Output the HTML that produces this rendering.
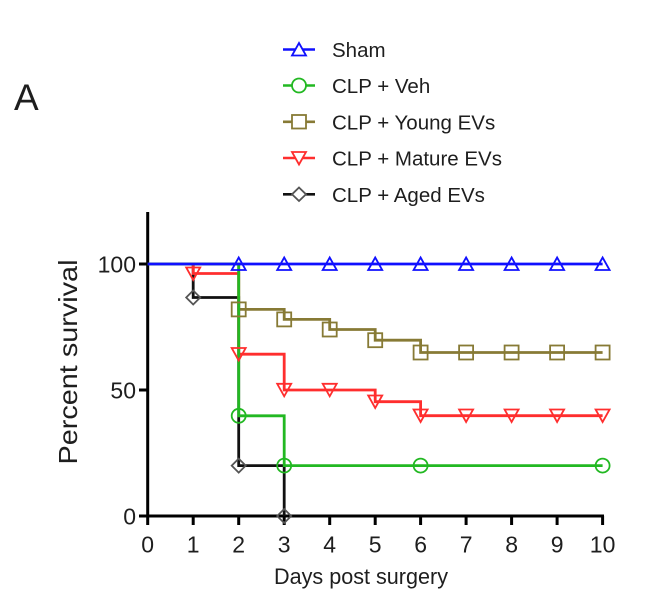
<!DOCTYPE html>
<html>
<head>
<meta charset="utf-8">
<style>
  html, body { margin: 0; padding: 0; background: #ffffff; }
  svg { display: block; }
  text { font-family: "Liberation Sans", Arial, sans-serif; fill: #1e1e1e; }
</style>
</head>
<body>
<svg width="650" height="602" viewBox="0 0 650 602" xmlns="http://www.w3.org/2000/svg">
  <rect x="0" y="0" width="650" height="602" fill="#ffffff"/>

  <!-- Panel letter -->
  <text x="14" y="110" font-size="37">A</text>

  <!-- Legend -->
  <g stroke-width="2.6" fill="none">
    <line x1="283" y1="49.5" x2="315" y2="49.5" stroke="#1010ff"/>
    <line x1="283" y1="85.5" x2="315" y2="85.5" stroke="#22b822"/>
    <line x1="283" y1="121.8" x2="315" y2="121.8" stroke="#877a35"/>
    <line x1="283" y1="158" x2="315" y2="158" stroke="#ff2e2e"/>
    <line x1="283" y1="194.3" x2="315" y2="194.3" stroke="#111111"/>
  </g>
  <g fill="#ffffff" stroke-width="1.8">
    <polygon points="299,43 306,55.5 292,55.5" stroke="#1010ff"/>
    <circle cx="299" cy="85.5" r="7" stroke="#22b822"/>
    <rect x="292" y="115" width="14" height="13.5" stroke="#877a35"/>
    <polygon points="292,152 306,152 299,164.5" stroke="#ff2e2e"/>
    <polygon points="299,187.5 306,194.3 299,201 292,194.3" stroke="#555555"/>
  </g>
  <g font-size="20.5">
    <text x="332" y="57">Sham</text>
    <text x="332" y="93">CLP + Veh</text>
    <text x="332" y="129.3">CLP + Young EVs</text>
    <text x="332" y="165.5">CLP + Mature EVs</text>
    <text x="332" y="201.8">CLP + Aged EVs</text>
  </g>

  <!-- Axes -->
  <g stroke="#000" stroke-width="3" fill="none">
    <line x1="147.7" y1="212" x2="147.7" y2="517.5"/>
    <line x1="146.2" y1="516" x2="604" y2="516"/>
    <!-- y ticks -->
    <line x1="139" y1="264" x2="147.7" y2="264"/>
    <line x1="139" y1="390" x2="147.7" y2="390"/>
    <line x1="139" y1="516" x2="147.7" y2="516"/>
    <!-- x ticks -->
    <line x1="147.7" y1="516" x2="147.7" y2="525"/>
    <line x1="193.2" y1="516" x2="193.2" y2="525"/>
    <line x1="238.7" y1="516" x2="238.7" y2="525"/>
    <line x1="284.2" y1="516" x2="284.2" y2="525"/>
    <line x1="329.7" y1="516" x2="329.7" y2="525"/>
    <line x1="375.2" y1="516" x2="375.2" y2="525"/>
    <line x1="420.6" y1="516" x2="420.6" y2="525"/>
    <line x1="466.1" y1="516" x2="466.1" y2="525"/>
    <line x1="511.6" y1="516" x2="511.6" y2="525"/>
    <line x1="557.1" y1="516" x2="557.1" y2="525"/>
    <line x1="602.6" y1="516" x2="602.6" y2="525"/>
  </g>

  <!-- Tick labels -->
  <g font-size="23" text-anchor="end">
    <text x="136" y="272.5">100</text>
    <text x="136" y="398.5">50</text>
    <text x="136" y="524.5">0</text>
  </g>
  <g font-size="23" text-anchor="middle">
    <text x="147.7" y="552.5">0</text>
    <text x="193.2" y="552.5">1</text>
    <text x="238.7" y="552.5">2</text>
    <text x="284.2" y="552.5">3</text>
    <text x="329.7" y="552.5">4</text>
    <text x="375.2" y="552.5">5</text>
    <text x="420.6" y="552.5">6</text>
    <text x="466.1" y="552.5">7</text>
    <text x="511.6" y="552.5">8</text>
    <text x="557.1" y="552.5">9</text>
    <text x="602.6" y="552.5">10</text>
  </g>

  <!-- Axis titles -->
  <text x="361" y="584" font-size="22" text-anchor="middle" textLength="174" lengthAdjust="spacingAndGlyphs">Days post surgery</text>
  <text transform="translate(77,362) rotate(-90)" x="0" y="0" font-size="26" text-anchor="middle" textLength="205" lengthAdjust="spacingAndGlyphs">Percent survival</text>

  <!-- Series lines -->
  <g fill="none" stroke-width="2.8" stroke-linejoin="miter">
    <!-- Aged (black) -->
    <polyline stroke="#111111" points="147.7,264 193.2,264 193.2,297.5 238.7,297.5 238.7,465.6 284.2,465.6 284.2,516"/>
    <!-- Mature (red) -->
    <polyline stroke="#ff2e2e" points="147.7,264 193.2,264 193.2,273.5 238.7,273.5 238.7,354.2 284.2,354.2 284.2,390 375.2,390 375.2,401.7 420.6,401.7 420.6,415.7 602.6,415.7"/>
    <!-- Young (olive) -->
    <polyline stroke="#877a35" points="147.7,264 238.7,264 238.7,309.4 284.2,309.4 284.2,319.4 329.7,319.4 329.7,329.5 375.2,329.5 375.2,340.2 420.6,340.2 420.6,352.5 602.6,352.5"/>
    <!-- Veh (green) -->
    <polyline stroke="#22b822" points="147.7,264 238.7,264 238.7,415.8 284.2,415.8 284.2,465.6 602.6,465.6"/>
    <!-- Sham (blue) -->
    <polyline stroke="#1010ff" points="147.7,264 602.6,264"/>
  </g>

  <!-- Markers: Aged diamonds -->
  <g fill="none" stroke="#555555" stroke-width="1.8">
    <polygon points="193.2,290.5 200.2,297.5 193.2,304.5 186.2,297.5"/>
    <polygon points="238.7,458.6 245.7,465.6 238.7,472.6 231.7,465.6"/>
    <polygon points="284.2,509 291.2,516 284.2,523 277.2,516"/>
  </g>

  <!-- Markers: Mature triangles down -->
  <g fill="none" stroke="#ff2e2e" stroke-width="1.8">
    <polygon points="186.2,267.5 200.2,267.5 193.2,280"/>
    <polygon points="231.7,348 245.7,348 238.7,360.5"/>
    <polygon points="277.2,383.8 291.2,383.8 284.2,396.3"/>
    <polygon points="322.7,383.8 336.7,383.8 329.7,396.3"/>
    <polygon points="368.2,395.5 382.2,395.5 375.2,408"/>
    <polygon points="413.6,409.5 427.6,409.5 420.6,422"/>
    <polygon points="459.1,409.5 473.1,409.5 466.1,422"/>
    <polygon points="504.6,409.5 518.6,409.5 511.6,422"/>
    <polygon points="550.1,409.5 564.1,409.5 557.1,422"/>
    <polygon points="595.6,409.5 609.6,409.5 602.6,422"/>
  </g>

  <!-- Markers: Young squares -->
  <g fill="none" stroke="#877a35" stroke-width="1.8">
    <rect x="231.7" y="302.4" width="14" height="14"/>
    <rect x="277.2" y="312.4" width="14" height="14"/>
    <rect x="322.7" y="322.5" width="14" height="14"/>
    <rect x="368.2" y="333.2" width="14" height="14"/>
    <rect x="413.6" y="345.5" width="14" height="14"/>
    <rect x="459.1" y="345.5" width="14" height="14"/>
    <rect x="504.6" y="345.5" width="14" height="14"/>
    <rect x="550.1" y="345.5" width="14" height="14"/>
    <rect x="595.6" y="345.5" width="14" height="14"/>
  </g>

  <!-- Markers: Veh circles -->
  <g fill="none" stroke="#22b822" stroke-width="1.8">
    <circle cx="238.7" cy="415.8" r="7"/>
    <circle cx="284.2" cy="465.6" r="7"/>
    <circle cx="420.6" cy="465.6" r="7"/>
    <circle cx="602.6" cy="465.6" r="7"/>
  </g>

  <!-- Markers: Sham triangles up -->
  <g fill="none" stroke="#1010ff" stroke-width="1.8">
    <polygon points="238.7,257.5 245.7,270 231.7,270"/>
    <polygon points="284.2,257.5 291.2,270 277.2,270"/>
    <polygon points="329.7,257.5 336.7,270 322.7,270"/>
    <polygon points="375.2,257.5 382.2,270 368.2,270"/>
    <polygon points="420.6,257.5 427.6,270 413.6,270"/>
    <polygon points="466.1,257.5 473.1,270 459.1,270"/>
    <polygon points="511.6,257.5 518.6,270 504.6,270"/>
    <polygon points="557.1,257.5 564.1,270 550.1,270"/>
    <polygon points="602.6,257.5 609.6,270 595.6,270"/>
  </g>
</svg>
</body>
</html>
